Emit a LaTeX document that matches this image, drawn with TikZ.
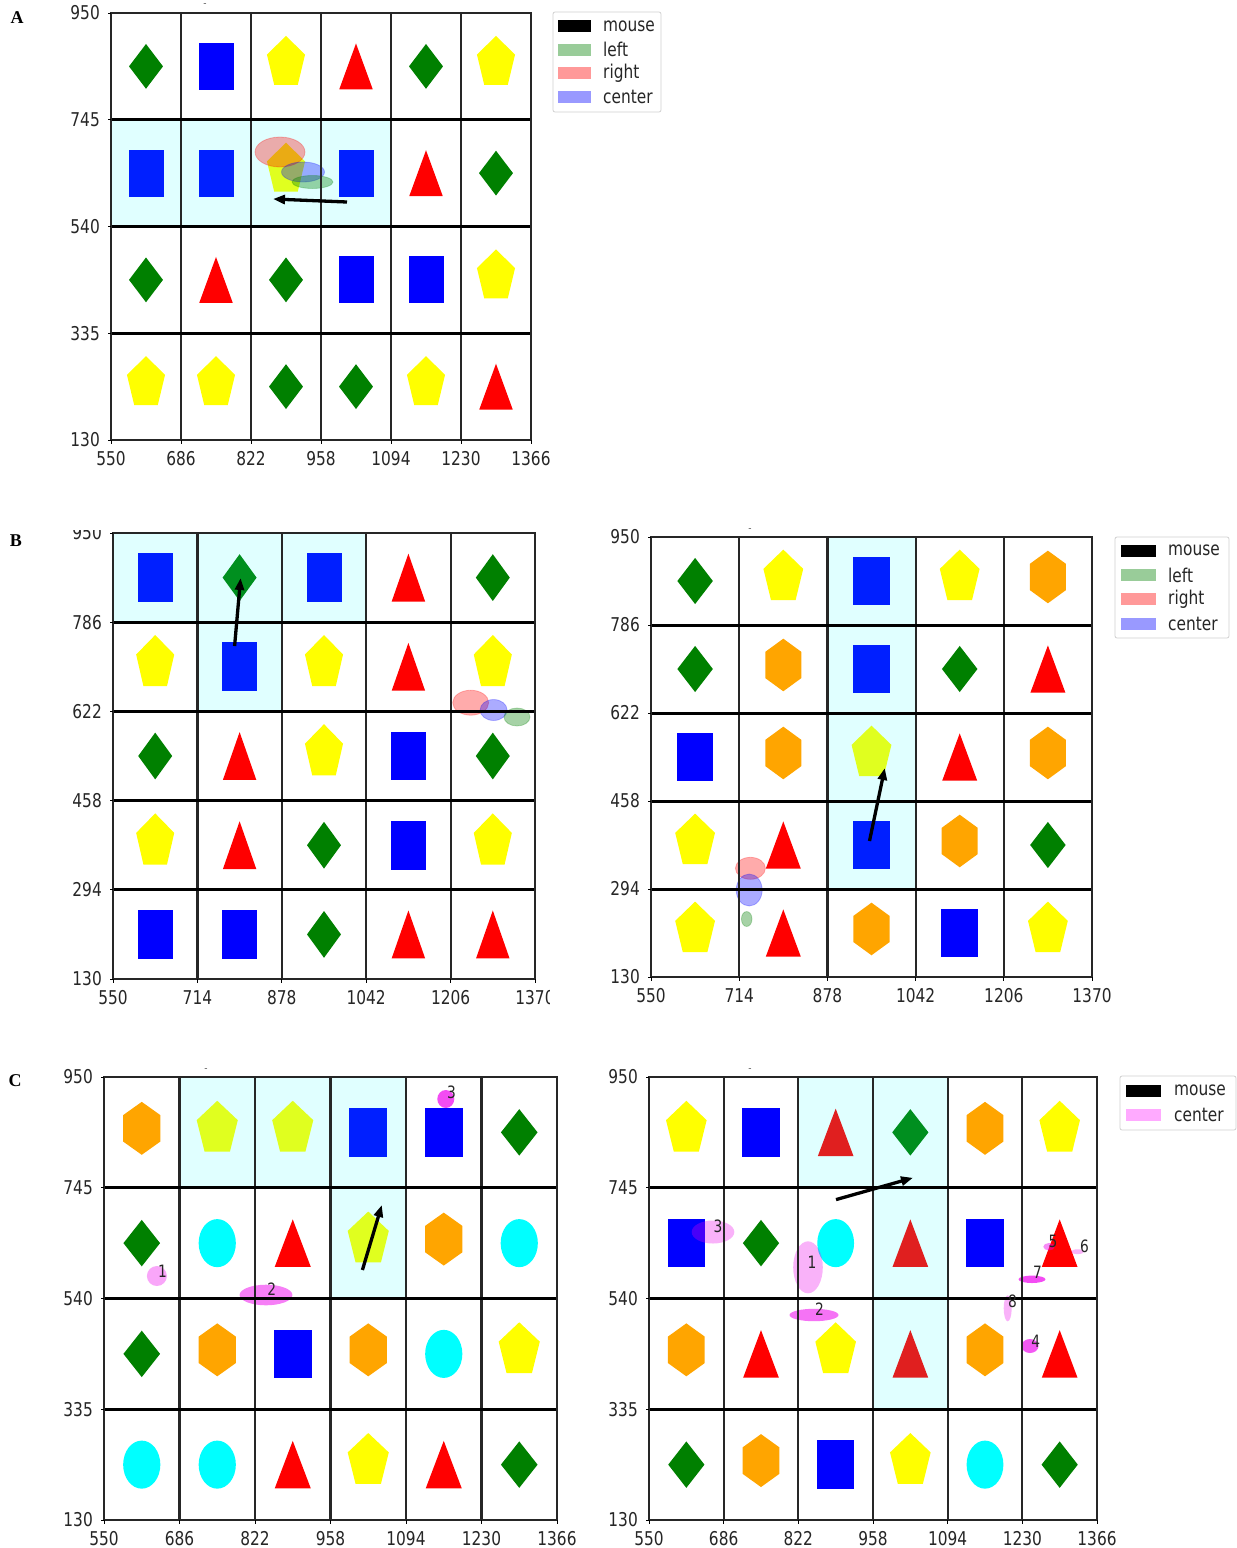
\documentclass[tikz,border=0pt]{standalone}
\usepackage{fontspec}
\usetikzlibrary{arrows.meta}
\newfontfamily\dejavu{DejaVu Sans}
\newfontfamily\serifbf{Liberation Serif}
\definecolor{cgreen}{RGB}{0,128,0}
\definecolor{cblue}{RGB}{0,0,255}
\definecolor{cyellow}{RGB}{255,255,0}
\definecolor{cred}{RGB}{255,0,0}
\definecolor{corange}{RGB}{255,165,0}
\definecolor{ccyan}{RGB}{0,255,255}
\definecolor{cmag}{RGB}{238,0,238}
\definecolor{legg}{RGB}{153,204,153}
\definecolor{legr}{RGB}{255,153,153}
\definecolor{legb}{RGB}{153,153,255}
\definecolor{legm}{RGB}{255,170,255}
\newcommand\shprec{\fill[cblue] (-34,-45) rectangle (34,45);}
\newcommand\shpdia{\fill[cgreen] (0,-43) -- (33,0) -- (0,43) -- (-33,0) -- cycle;}
\newcommand\shptri{\fill[cred] (0,-44) -- (32.5,44) -- (-32.5,44) -- cycle;}
\newcommand\shppen{\fill[cyellow] (0,-58.5) -- (37,-22.6) -- (22.9,35.5) -- (-22.9,35.5) -- (-37,-22.6) -- cycle;}
\newcommand\shphex{\fill[corange] (0,-56.5) -- (33.5,-32) -- (33.5,17) -- (0,41.5) -- (-33.5,17) -- (-33.5,-32) -- cycle;}
\newcommand\shpell{\fill[ccyan] (0,0) ellipse (33.5 and 44.5);}
% #1 x0, #2 y0, #3 cw, #4 ch, #5 ncols, #6 sx, #7 sy, #8 list
\newcommand\placeshapes[8]{%
 \foreach \s [count=\kk from 0] in {#8} {%
   \pgfmathtruncatemacro\ccol{mod(\kk,#5)}%
   \pgfmathtruncatemacro\rrow{floor(\kk/#5)}%
   \begin{scope}[shift={({#1+(\ccol+0.5)*#3},{#2+(\rrow+0.5)*#4})}, xscale=#6, yscale=#7]
     \csname shp\s\endcsname
   \end{scope}
 }%
}
\newcommand\hlcell[6]{\fill[hl] ({#1+#5*#3},{#2+#6*#4}) rectangle ++(#3,#4);}
\newcommand\tkf{\dejavu\fontsize{19}{19}\selectfont}
\newcommand\sq[1]{\scalebox{0.81}[1]{#1}}
% #1 name, #2 x0, #3 y0, #4 x1, #5 y1, #6 ncols, #7 nrows, #8 xlabels, #9 ylabels
\newcommand\gridpanel[9]{%
 \pgfmathsetmacro\cw{(#4-#2)/#6}%
 \pgfmathsetmacro\ch{(#5-#3)/#7}%
 \pgfmathtruncatemacro\ncm{#6-1}%
 \pgfmathtruncatemacro\nrm{#7-1}%
 \foreach \i in {1,...,\ncm} {\draw[vline] ({#2+\i*\cw},#3) -- ({#2+\i*\cw},#5);}%
 \foreach \j in {1,...,\nrm} {\draw[hline] (#2,{#3+\j*\ch}) -- (#4,{#3+\j*\ch});}%
 \draw[frame] (#2,#3) rectangle (#4,#5);%
 \foreach \l [count=\i from 0] in {#8} {%
   \draw[tick] ({#2+\i*\cw},#5) -- ++(0,3.5);
   \node[ticklab, anchor=north] (#1x\i) at ({#2+\i*\cw},#5+11) {\sq{\l}};}%
 \foreach \l [count=\j from 0] in {#9} {%
   \draw[tick] (#2,{#3+\j*\ch}) -- ++(-3.5,0);
   \node[ticklab, anchor=east] (#1y\j) at (#2-11,{#3+\j*\ch}) {\sq{\l}};}%
}
\begin{document}
\begin{tikzpicture}[x=1pt,y=-1pt,
  hl/.style={fill=ccyan, fill opacity=0.12},
  vline/.style={line width=2.2pt, black!85},
  hline/.style={line width=3pt, black},
  frame/.style={line width=1.6pt, black!85},
  tick/.style={line width=1pt, black},
  ticklab/.style={inner sep=0pt, font=\tkf, text=black!85},
  legtext/.style={inner sep=0pt, anchor=west, font=\tkf, text=black!85},
  legbox/.style={draw=black!18, fill=white, line width=0.8pt, rounded corners=2pt},
  fixg/.style={fill=cgreen, fill opacity=0.35, draw=cgreen, draw opacity=0.25, line width=0.8pt},
  fixr/.style={fill=cred, fill opacity=0.33, draw=cred, draw opacity=0.25, line width=0.8pt},
  fixb/.style={fill=cblue, fill opacity=0.33, draw=cblue, draw opacity=0.25, line width=0.8pt},
  fixm/.style={fill=cmag, fill opacity=#1},
  numlab/.style={inner sep=0pt, font=\dejavu\fontsize{17}{17}\selectfont, text=black!85},
  mousearrow/.style={line width=3.3pt, black, -{Triangle[length=12pt,width=9pt]}},
  paneltag/.style={inner sep=0pt, font=\serifbf\bfseries\fontsize{18}{18}\selectfont},
  dashlab/.style={inner sep=0pt, font=\dejavu\fontsize{9}{9}\selectfont, text=black!70}
]
\fill[white] (0,0) rectangle (1237,1548);
\useasboundingbox (0,0) rectangle (1237,1548);

% ================= Panel A =================
\node[paneltag] (tagA) at (17,18) {A};
\node[dashlab] (dashA) at (205,5) {-};
\placeshapes{111}{13}{70}{106.75}{6}{0.5147}{0.5207}{dia,rec,pen,tri,dia,pen,rec,rec,pen,rec,tri,dia,dia,tri,dia,rec,rec,pen,pen,pen,dia,dia,pen,tri}
\foreach \c in {0,1,2,3} {\hlcell{111}{13}{70}{106.75}{\c}{1}}
\fill[fixr] (280,152) ellipse (25 and 15);
\fill[fixb] (303,172) ellipse (21.5 and 10);
\fill[fixg] (312.5,182) ellipse (20.5 and 6.5);
\gridpanel{A}{111}{13}{531}{440}{6}{4}{550,686,822,958,1094,1230,1366}{950,745,540,335,130}
\coordinate (Aa1) at (347,202);
\coordinate (Aa2) at (273,199);
\draw[mousearrow] (Aa1) -- (Aa2);
\draw[legbox] (553,12) rectangle (661,112);
\fill[black] (558,20) rectangle (591,32);
\fill[legg] (558,43.5) rectangle (591,55.5);
\fill[legr] (558,67) rectangle (591,79);
\fill[legb] (558,90.5) rectangle (591,102.5);
\node[legtext] (Al1) at (603,26) {\sq{mouse}};
\node[legtext] (Al2) at (603,49.5) {\sq{left}};
\node[legtext] (Al3) at (603,73) {\sq{right}};
\node[legtext] (Al4) at (603,96.5) {\sq{center}};

% ================= Panel B left =================
\node[paneltag] (tagB) at (16,541) {B};
\begin{scope}
\clip (0,530) rectangle (549,1015);
\placeshapes{113}{533}{84.4}{89.2}{5}{0.5146}{0.5439}{rec,dia,rec,tri,dia,pen,rec,pen,tri,pen,dia,tri,pen,rec,dia,pen,tri,dia,rec,pen,rec,rec,dia,tri,tri}
\hlcell{113}{533}{84.4}{89.2}{0}{0}
\hlcell{113}{533}{84.4}{89.2}{1}{0}
\hlcell{113}{533}{84.4}{89.2}{2}{0}
\hlcell{113}{533}{84.4}{89.2}{1}{1}
\fill[fixr] (470.7,702.7) ellipse (18 and 12.5);
\fill[fixb] (493.6,710) ellipse (13.5 and 10.5);
\fill[fixg] (517,717) ellipse (13 and 9);
\gridpanel{BL}{113}{533}{535}{979}{5}{5}{550,714,878,1042,1206,1370}{950,786,622,458,294,130}
\coordinate (Ba1) at (234.6,646);
\coordinate (Ba2) at (240.6,578);
\draw[mousearrow] (Ba1) -- (Ba2);
\end{scope}

% ================= Panel B right =================
\node[dashlab] (dashB) at (750,530) {-};
\placeshapes{651}{537}{88.2}{88}{5}{0.5378}{0.5366}{dia,pen,rec,pen,hex,dia,hex,rec,dia,tri,rec,hex,pen,tri,hex,pen,tri,rec,hex,dia,pen,tri,hex,rec,pen}
\foreach \r in {0,1,2,3} {\hlcell{651}{537}{88.2}{88}{2}{\r}}
\fill[fixr] (750.4,868.3) ellipse (15 and 11);
\fill[fixb] (749.2,890) ellipse (13 and 16);
\fill[fixg] (746.7,919) ellipse (5.3 and 7.5);
\gridpanel{BR}{651}{537}{1092}{977}{5}{5}{550,714,878,1042,1206,1370}{950,786,622,458,294,130}
\coordinate (Bb1) at (869.5,841);
\coordinate (Bb2) at (884.8,768);
\draw[mousearrow] (Bb1) -- (Bb2);
\draw[legbox] (1115,537) rectangle (1229,638);
\fill[black] (1121,544.7) rectangle (1156,556.7);
\fill[legg] (1121,569) rectangle (1156,581);
\fill[legr] (1121,593.3) rectangle (1156,605.3);
\fill[legb] (1121,618) rectangle (1156,630);
\node[legtext] (Bl1) at (1168,550.7) {\sq{mouse}};
\node[legtext] (Bl2) at (1168,575) {\sq{left}};
\node[legtext] (Bl3) at (1168,599.3) {\sq{right}};
\node[legtext] (Bl4) at (1168,624) {\sq{center}};

% ================= Panel C left =================
\node[paneltag] (tagC) at (15,1081) {C};
\node[dashlab] (dashC1) at (206,1070) {-};
\placeshapes{104}{1077}{75.5}{110.75}{6}{0.555}{0.5402}{hex,pen,pen,rec,rec,dia,dia,ell,tri,pen,hex,ell,dia,hex,rec,hex,ell,pen,ell,ell,tri,pen,tri,dia}
\foreach \c in {1,2,3} {\hlcell{104}{1077}{75.5}{110.75}{\c}{0}}
\hlcell{104}{1077}{75.5}{110.75}{3}{1}
\fill[fixm=0.35] (156.9,1276) ellipse (10 and 10);
\fill[fixm=0.5] (266,1295) ellipse (26.4 and 10.3);
\fill[fixm=0.7] (445.8,1099) ellipse (8.5 and 9);
\gridpanel{CL}{104}{1077}{557}{1520}{6}{4}{550,686,822,958,1094,1230,1366}{950,745,540,335,130}
\node[numlab] (CLn1) at (162.6,1271.7) {\sq{1}};
\node[numlab] (CLn2) at (271.7,1289) {\sq{2}};
\node[numlab] (CLn3) at (451.6,1092.7) {\sq{3}};
\coordinate (Ca1) at (362.4,1270);
\coordinate (Ca2) at (381.8,1205);
\draw[mousearrow] (Ca1) -- (Ca2);

% ================= Panel C right =================
\node[dashlab] (dashC2) at (750,1070) {-};
\placeshapes{649}{1077}{74.667}{110.75}{6}{0.549}{0.5402}{pen,rec,tri,dia,hex,pen,rec,dia,ell,tri,rec,tri,hex,tri,pen,tri,hex,tri,dia,hex,rec,pen,ell,dia}
\hlcell{649}{1077}{74.667}{110.75}{2}{0}
\foreach \r in {0,1,2} {\hlcell{649}{1077}{74.667}{110.75}{3}{\r}}
\fill[fixm=0.3] (808,1267.3) ellipse (14.8 and 26);
\fill[fixm=0.55] (814,1315) ellipse (24.5 and 6.2);
\fill[fixm=0.3] (713,1232) ellipse (21.3 and 11.5);
\fill[fixm=0.65] (1030,1346) ellipse (8.5 and 7);
\fill[fixm=0.45] (1049,1246.7) ellipse (5.7 and 3.7);
\fill[fixm=0.3] (1077.6,1251.7) ellipse (6.5 and 2.4);
\fill[fixm=0.7] (1032,1279.3) ellipse (13.5 and 3.7);
\fill[fixm=0.3] (1007.7,1308.3) ellipse (4 and 13);
\gridpanel{CR}{649}{1077}{1097}{1520}{6}{4}{550,686,822,958,1094,1230,1366}{950,745,540,335,130}
\node[numlab] (CRn1) at (812,1262) {\sq{1}};
\node[numlab] (CRn2) at (819.5,1309) {\sq{2}};
\node[numlab] (CRn3) at (718,1226.7) {\sq{3}};
\node[numlab] (CRn4) at (1035.8,1341) {\sq{4}};
\node[numlab] (CRn5) at (1053,1241) {\sq{5}};
\node[numlab] (CRn6) at (1084.6,1246.7) {\sq{6}};
\node[numlab] (CRn7) at (1037.4,1272.3) {\sq{7}};
\node[numlab] (CRn8) at (1012.6,1301.7) {\sq{8}};
\coordinate (Cb1) at (836,1199.6);
\coordinate (Cb2) at (913,1177.8);
\draw[mousearrow] (Cb1) -- (Cb2);
\draw[legbox] (1120,1076) rectangle (1236,1130);
\fill[black] (1126,1084.7) rectangle (1161,1096.7);
\fill[legm] (1126,1109) rectangle (1161,1121);
\node[legtext] (Cl1) at (1174,1090.7) {\sq{mouse}};
\node[legtext] (Cl2) at (1174,1115) {\sq{center}};
\end{tikzpicture}
\end{document}
